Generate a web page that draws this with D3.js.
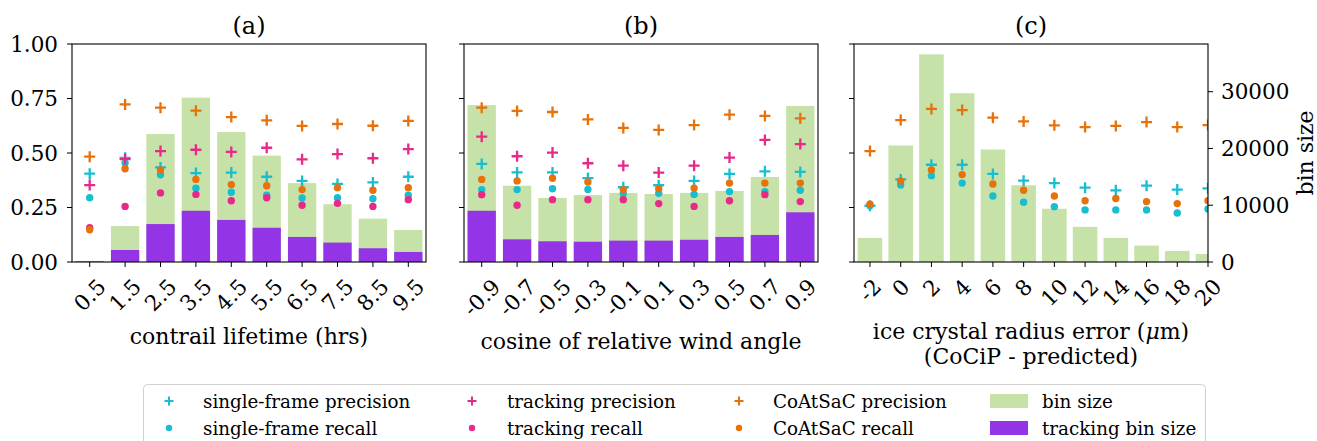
<!DOCTYPE html>
<html>
<head>
<meta charset="utf-8">
<script src="https://cdn.jsdelivr.net/npm/d3@7"></script>
<style>
body { margin: 0; background: #fff; }
svg { font-family: "DejaVu Serif", serif; }
</style>
</head>
<body>
<div id="chart"></div>
<script>
// ---- data ----
var lifeCats = ["0.5", "1.5", "2.5", "3.5", "4.5", "5.5", "6.5", "7.5", "8.5", "9.5"];
var lifeSfPrec = [0.405, 0.478, 0.434, 0.408, 0.41, 0.391, 0.372, 0.358, 0.365, 0.391];
var lifeSfRec  = [0.295, 0.454, 0.40, 0.338, 0.32, 0.306, 0.294, 0.295, 0.29, 0.306];
var lifeTrPrec = [0.353, 0.472, 0.509, 0.515, 0.505, 0.524, 0.471, 0.495, 0.476, 0.518];
var lifeTrRec  = [0.157, 0.255, 0.317, 0.310, 0.281, 0.295, 0.26, 0.269, 0.255, 0.286];
var lifeCoPrec = [0.483, 0.723, 0.708, 0.694, 0.665, 0.65, 0.624, 0.633, 0.625, 0.647];
var lifeCoRec  = [0.148, 0.428, 0.422, 0.379, 0.355, 0.35, 0.332, 0.341, 0.329, 0.341];
var lifeBin    = [0.005, 0.165, 0.587, 0.754, 0.596, 0.488, 0.362, 0.265, 0.199, 0.147];
var lifeTrBin  = [0.002, 0.055, 0.174, 0.235, 0.193, 0.157, 0.115, 0.089, 0.063, 0.046];

var windCats = ["-0.9", "-0.7", "-0.5", "-0.3", "-0.1", "0.1", "0.3", "0.5", "0.7", "0.9"];
var windSfPrec = [0.45, 0.411, 0.411, 0.385, 0.343, 0.352, 0.372, 0.404, 0.416, 0.413];
var windSfRec  = [0.332, 0.332, 0.336, 0.333, 0.313, 0.315, 0.31, 0.323, 0.323, 0.329];
var windTrPrec = [0.575, 0.485, 0.502, 0.453, 0.442, 0.41, 0.442, 0.479, 0.56, 0.541];
var windTrRec  = [0.309, 0.26, 0.286, 0.286, 0.286, 0.268, 0.255, 0.281, 0.309, 0.277];
var windCoPrec = [0.708, 0.693, 0.688, 0.654, 0.615, 0.606, 0.628, 0.676, 0.67, 0.659];
var windCoRec  = [0.379, 0.372, 0.384, 0.367, 0.332, 0.336, 0.339, 0.362, 0.362, 0.362];
var windBin    = [0.72, 0.35, 0.294, 0.307, 0.317, 0.312, 0.317, 0.326, 0.39, 0.716];
var windTrBin  = [0.235, 0.104, 0.095, 0.093, 0.098, 0.098, 0.102, 0.115, 0.124, 0.228];

var iceCats = [-2, 0, 2, 4, 6, 8, 10, 12, 14, 16, 18, 20];
var iceSfPrec = [0.258, 0.379, 0.446, 0.446, 0.404, 0.373, 0.362, 0.341, 0.329, 0.35, 0.332, 0.338];
var iceSfRec  = [0.258, 0.353, 0.396, 0.362, 0.303, 0.274, 0.254, 0.239, 0.239, 0.239, 0.225, 0.243];
var iceCoPrec = [0.509, 0.651, 0.702, 0.697, 0.662, 0.645, 0.627, 0.619, 0.624, 0.642, 0.619, 0.628];
var iceCoRec  = [0.265, 0.372, 0.422, 0.401, 0.358, 0.329, 0.303, 0.281, 0.291, 0.277, 0.268, 0.281];
var iceBinCount = [4250, 20530, 36580, 29730, 19820, 13510, 9380, 6190, 4250, 2890, 1950, 1420];

var yTicks = [0, 0.25, 0.5, 0.75, 1.0];
var binTicks = [0, 10000, 20000, 30000];

var colors = {
    sf: "#17becf",
    tr: "#e7298a",
    co: "#e8710a",
    bin: "#c6e2a8",
    trBin: "#9334e6"
};

var width = 1317, height = 441;
var top0 = 44, bot0 = 262;
var tickFs = 21.5, labelFs = 22, titleFs = 24;

var svg = d3.select("#chart").append("svg")
    .attr("width", width)
    .attr("height", height);

var y = d3.scaleLinear().domain([0, 1]).range([bot0, top0]);
var plusPath = function(s) { return "M" + (-s) + ",0H" + s + "M0," + (-s) + "V" + s; };

function drawFrame(g, x0, x1) {
    g.append("rect")
        .attr("x", x0).attr("y", top0)
        .attr("width", x1 - x0).attr("height", bot0 - top0)
        .attr("fill", "none").attr("stroke", "#000").attr("stroke-width", 1.1);
}

// x tick labels rotated 45 deg, centred under the tick like matplotlib
function rotatedTicks(g, positions, labels) {
    var bottom = 0;
    positions.forEach(function(px, i) {
        g.append("line")
            .attr("x1", px).attr("x2", px)
            .attr("y1", bot0).attr("y2", bot0 + 5)
            .attr("stroke", "#000");
        var t = g.append("text")
            .attr("font-size", tickFs)
            .attr("text-anchor", "middle")
            .attr("dominant-baseline", "central")
            .text(labels[i]);
        var w = t.node().getComputedTextLength();
        var half = (w + tickFs * 1.17) / (2 * Math.SQRT2);
        var cy = bot0 + 12 + half;
        t.attr("transform", "translate(" + px + "," + cy + ") rotate(-45)");
        bottom = Math.max(bottom, cy + half);
    });
    return bottom;
}

function leftTicks(g, x0, showLabels) {
    yTicks.forEach(function(v) {
        g.append("line")
            .attr("x1", x0 - 5).attr("x2", x0)
            .attr("y1", y(v)).attr("y2", y(v))
            .attr("stroke", "#000");
        if (showLabels) {
            g.append("text")
                .attr("x", x0 - 14).attr("y", y(v))
                .attr("font-size", tickFs)
                .attr("text-anchor", "end")
                .attr("dominant-baseline", "central")
                .text(d3.format(".2f")(v));
        }
    });
}

function scatter(g, xs, vals, color, kind) {
    g.selectAll(null)
        .data(vals)
        .enter()
        .append(kind == "plus" ? "path" : "circle")
        .each(function(d, i) {
            var s = d3.select(this);
            if (kind == "plus") {
                s.attr("d", plusPath(5.5))
                    .attr("transform", "translate(" + xs[i] + "," + y(d) + ")")
                    .attr("stroke", color).attr("stroke-width", 2.3).attr("fill", "none");
            } else {
                s.attr("cx", xs[i]).attr("cy", y(d)).attr("r", 3.7).attr("fill", color);
            }
        });
}

function bandPanel(x0, x1, cats, d, title, xlabel, showLabels) {
    var g = svg.append("g");
    var x = d3.scaleBand().domain(cats).range([x0, x1]).paddingInner(0.2).paddingOuter(0.1);
    var centers = cats.map(function(c) { return x(c) + x.bandwidth() / 2; });

    g.selectAll(".bin").data(d.bin).enter().append("rect")
        .attr("x", function(v, i) { return x(cats[i]); })
        .attr("y", function(v) { return y(v); })
        .attr("width", x.bandwidth())
        .attr("height", function(v) { return bot0 - y(v); })
        .attr("fill", colors.bin);
    g.selectAll(".trbin").data(d.trBin).enter().append("rect")
        .attr("x", function(v, i) { return x(cats[i]); })
        .attr("y", function(v) { return y(v); })
        .attr("width", x.bandwidth())
        .attr("height", function(v) { return bot0 - y(v); })
        .attr("fill", colors.trBin);

    scatter(g, centers, d.sfPrec, colors.sf, "plus");
    scatter(g, centers, d.sfRec, colors.sf, "dot");
    scatter(g, centers, d.trPrec, colors.tr, "plus");
    scatter(g, centers, d.trRec, colors.tr, "dot");
    scatter(g, centers, d.coPrec, colors.co, "plus");
    scatter(g, centers, d.coRec, colors.co, "dot");

    drawFrame(g, x0, x1);
    leftTicks(g, x0, showLabels);
    var bottom = rotatedTicks(g.append("g"), centers, cats);

    g.append("text")
        .attr("x", (x0 + x1) / 2).attr("y", 34)
        .attr("font-size", titleFs).attr("text-anchor", "middle")
        .text(title);
    g.append("text")
        .attr("x", (x0 + x1) / 2).attr("y", bottom + 28)
        .attr("font-size", labelFs).attr("text-anchor", "middle")
        .text(xlabel);
}

bandPanel(72, 426, lifeCats, {
    sfPrec: lifeSfPrec, sfRec: lifeSfRec, trPrec: lifeTrPrec, trRec: lifeTrRec,
    coPrec: lifeCoPrec, coRec: lifeCoRec, bin: lifeBin, trBin: lifeTrBin
}, "(a)", "contrail lifetime (hrs)", true);

bandPanel(464, 818, windCats, {
    sfPrec: windSfPrec, sfRec: windSfRec, trPrec: windTrPrec, trRec: windTrRec,
    coPrec: windCoPrec, coRec: windCoRec, bin: windBin, trBin: windTrBin
}, "(b)", "cosine of relative wind angle", false);

// ---- panel (c): linear x, twin y axis for bin counts ----
(function() {
    var x0 = 854, x1 = 1208;
    var g = svg.append("g");
    var x = d3.scaleLinear().domain([-3.04, 20]).range([x0, x1]);
    var yBin = d3.scaleLinear().domain([0, 38400]).range([bot0, top0]);
    var bw = x(1.6) - x(0);

    g.append("clipPath").attr("id", "clipc")
        .append("rect").attr("x", x0).attr("y", top0 - 10)
        .attr("width", x1 - x0).attr("height", bot0 - top0 + 10);
    var inner = g.append("g").attr("clip-path", "url(#clipc)");

    inner.selectAll(".bin").data(iceBinCount).enter().append("rect")
        .attr("x", function(v, i) { return x(iceCats[i]) - bw / 2; })
        .attr("y", function(v) { return yBin(v); })
        .attr("width", bw)
        .attr("height", function(v) { return bot0 - yBin(v); })
        .attr("fill", colors.bin);

    var centers = iceCats.map(function(c) { return x(c); });
    scatter(inner, centers, iceSfPrec, colors.sf, "plus");
    scatter(inner, centers, iceSfRec, colors.sf, "dot");
    scatter(inner, centers, iceCoPrec, colors.co, "plus");
    scatter(inner, centers, iceCoRec, colors.co, "dot");

    drawFrame(g, x0, x1);
    leftTicks(g, x0, false);
    var bottom = rotatedTicks(g.append("g"), centers, iceCats.map(String));

    binTicks.forEach(function(v) {
        g.append("line")
            .attr("x1", x1).attr("x2", x1 + 5)
            .attr("y1", yBin(v)).attr("y2", yBin(v))
            .attr("stroke", "#000");
        g.append("text")
            .attr("x", x1 + 13).attr("y", yBin(v))
            .attr("font-size", tickFs).attr("dominant-baseline", "central")
            .text(v);
    });
    g.append("text")
        .attr("transform", "translate(1313," + ((top0 + bot0) / 2) + ") rotate(-90)")
        .attr("font-size", labelFs).attr("text-anchor", "middle")
        .text("bin size");

    g.append("text")
        .attr("x", (x0 + x1) / 2).attr("y", 34)
        .attr("font-size", titleFs).attr("text-anchor", "middle")
        .text("(c)");
    var l1 = g.append("text")
        .attr("x", (x0 + x1) / 2).attr("y", bottom + 28)
        .attr("font-size", labelFs).attr("text-anchor", "middle");
    l1.append("tspan").text("ice crystal radius error (");
    l1.append("tspan").attr("font-style", "italic").text("\u03bc");
    l1.append("tspan").text("m)");
    g.append("text")
        .attr("x", (x0 + x1) / 2).attr("y", bottom + 53)
        .attr("font-size", labelFs).attr("text-anchor", "middle")
        .text("(CoCiP - predicted)");
})();

// ---- legend ----
var legendItems = [
    {label: "single-frame precision", color: colors.sf, kind: "plus", col: 0, row: 0},
    {label: "single-frame recall", color: colors.sf, kind: "dot", col: 0, row: 1},
    {label: "tracking precision", color: colors.tr, kind: "plus", col: 1, row: 0},
    {label: "tracking recall", color: colors.tr, kind: "dot", col: 1, row: 1},
    {label: "CoAtSaC precision", color: colors.co, kind: "plus", col: 2, row: 0},
    {label: "CoAtSaC recall", color: colors.co, kind: "dot", col: 2, row: 1},
    {label: "bin size", color: colors.bin, kind: "patch", col: 3, row: 0},
    {label: "tracking bin size", color: colors.trBin, kind: "patch", col: 3, row: 1}
];
var colX = [169, 472, 739, 1009];
var textX = [203, 507, 773, 1042];
var rowY = [401, 428];

var lg = svg.append("g");
lg.append("rect")
    .attr("x", 143.5).attr("y", 384.5)
    .attr("width", 1062).attr("height", 70)
    .attr("rx", 4)
    .attr("fill", "#fff").attr("stroke", "#d0d0d0");

legendItems.forEach(function(it) {
    var cx = colX[it.col], cy = rowY[it.row];
    if (it.kind == "plus") {
        lg.append("path").attr("d", plusPath(4.5))
            .attr("transform", "translate(" + cx + "," + cy + ")")
            .attr("stroke", it.color).attr("stroke-width", 2).attr("fill", "none");
    } else if (it.kind == "dot") {
        lg.append("circle").attr("cx", cx).attr("cy", cy).attr("r", 3.2).attr("fill", it.color);
    } else {
        lg.append("rect").attr("x", cx - 19).attr("y", cy - 7)
            .attr("width", 38).attr("height", 14).attr("fill", it.color);
    }
    lg.append("text")
        .attr("x", textX[it.col]).attr("y", cy)
        .attr("font-size", 18.3).attr("dominant-baseline", "central")
        .text(it.label);
});
</script>
</body>
</html>
